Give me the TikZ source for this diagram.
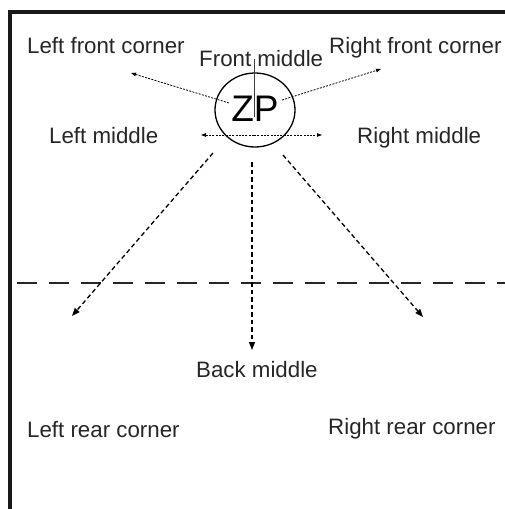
\documentclass[tikz,border=0pt]{standalone}
\usepackage{fontspec}
\setmainfont{Liberation Sans}
\usetikzlibrary{arrows.meta,shapes.geometric}
\begin{document}
\begin{tikzpicture}[x=1pt,y=-1pt,
  lbl/.style={anchor=base west,inner sep=0pt,font=\fontsize{22.3}{26}\selectfont,text=black!85},
  thinarr/.style={line width=0.8pt,dash pattern=on 2pt off 1.3pt,-{Triangle[length=5pt,width=3.5pt]}},
  rayarr/.style={line width=1.3pt,dash pattern=on 4.5pt off 3pt,-{Triangle[length=8pt,width=6pt]}},
  frame/.style={line width=3.5pt,black!90}]
\useasboundingbox (0,0) rectangle (505,509);
% frame
\draw[frame] (10,509) -- (10,12) -- (505,12);
% long dashed line
\draw[line width=2pt,black!85,dash pattern=on 20pt off 12pt,dash phase=-5pt] (12,283) -- (505,283);
% labels
\node[lbl] (lfc) at (27,53) {Left front corner};
\node[lbl] (rfc) at (329,53) {Right front corner};
\node[lbl] (fm) at (199,66) {Front middle};
\node[lbl] (lm) at (49,143) {Left middle};
\node[lbl] (rm) at (357,143) {Right middle};
\node[lbl] (bm) at (196,377) {Back middle};
\node[lbl] (lrc) at (27,437) {Left rear corner};
\node[lbl] (rrc) at (328,434) {Right rear corner};
% circle
\node[draw,line width=1.3pt,ellipse,minimum width=80pt,minimum height=74pt,inner sep=0pt] (zp) at (255,110) {};
\node[inner sep=0pt,font=\fontsize{37}{40}\selectfont] (zpt) at (255,109) {ZP};
% vertical thin line
\coordinate (vt) at (254.5,59);
\coordinate (vb) at (254.5,117);
\draw[line width=0.7pt,black!75] (vt) -- (vb);
% thin dotted arrows
\coordinate (lfs) at (229,103);
\coordinate (lfe) at (131,73);
\coordinate (rfs) at (282,100);
\coordinate (rfe) at (381,69);
\coordinate (mc) at (254,135);
\coordinate (lme) at (201,135);
\coordinate (rme) at (322,135);
\draw[thinarr] (lfs) -- (lfe);
\draw[thinarr] (rfs) -- (rfe);
\draw[thinarr] (mc) -- (lme);
\draw[thinarr] (mc) -- (rme);
% dashed rays
\coordinate (lrs) at (213,153);
\coordinate (lre) at (72,316);
\coordinate (rrs) at (283,155);
\coordinate (rre) at (423,317);
\coordinate (bms) at (252,162);
\coordinate (bme) at (252,350);
\draw[rayarr] (lrs) -- (lre);
\draw[rayarr] (rrs) -- (rre);
\draw[rayarr] (bms) -- (bme);
\end{tikzpicture}
\end{document}
